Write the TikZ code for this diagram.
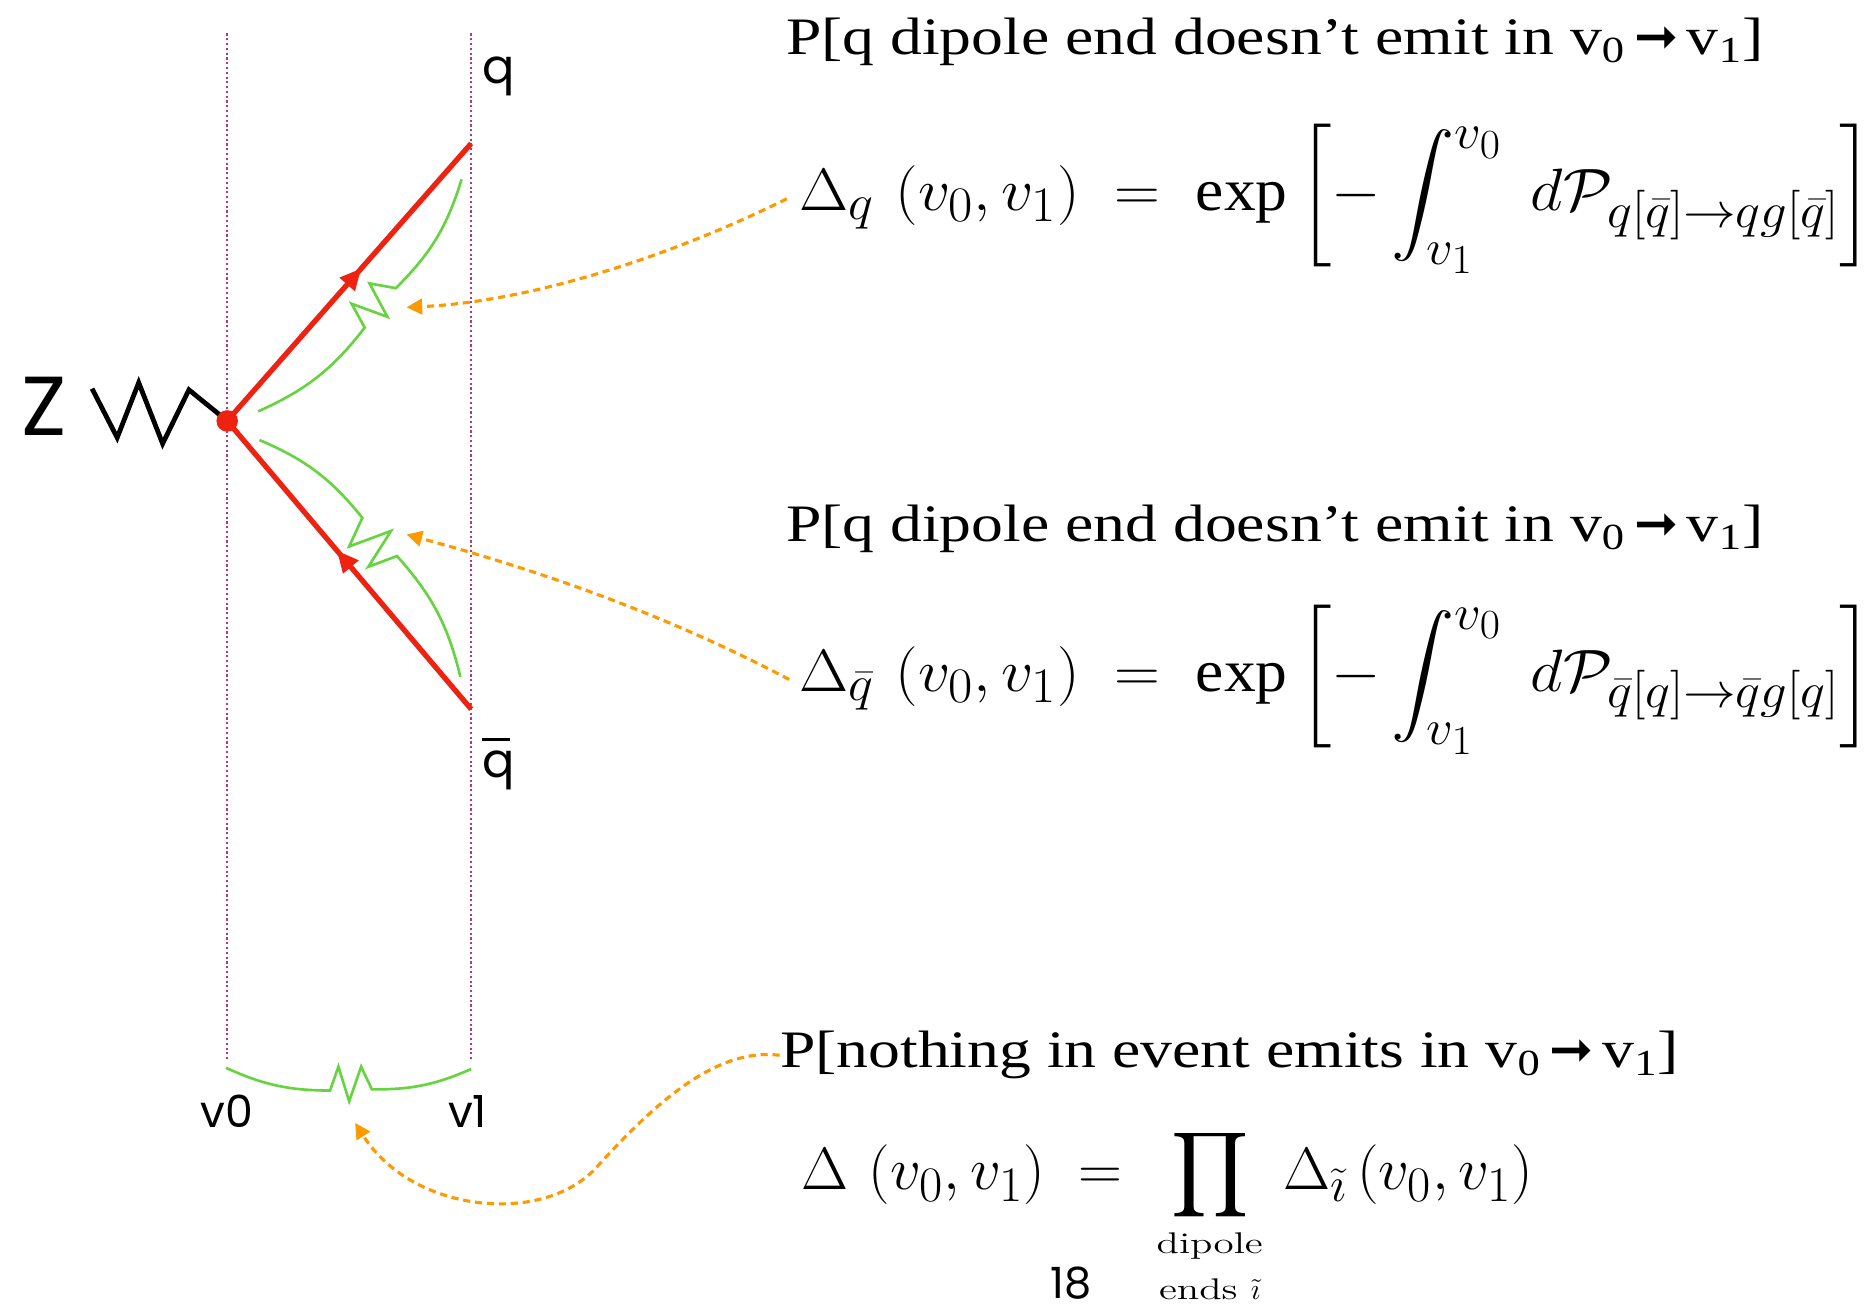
\RequirePackage{fix-cm}
\documentclass[tikz,border=0pt]{standalone}
\usepackage{amsmath}
\usepackage{graphicx}
\usepackage{fontspec}
\setmainfont{Liberation Serif}
\newfontfamily\ttlfont{Liberation Serif}[FakeStretch=1.21]
\newfontfamily\geo{Poppins}
\newfontfamily\djv{DejaVu Sans}
\newfontfamily\lmrw{Latin Modern Roman}[FakeStretch=1.35]
\DeclareMathSizes{25}{25}{20.75}{17.3}
\usetikzlibrary{arrows.meta,decorations.markings}
\definecolor{qred}{HTML}{EE2211}
\definecolor{egreen}{HTML}{66D43F}
\definecolor{orng}{HTML}{FF9900}
\definecolor{guide}{HTML}{B03A7A}
\newcommand{\harr}{{\djv ➞}}
\newcommand{\limtxt}[1]{\mbox{\lmrw\fontsize{12.5}{14}\selectfont #1}}
\begin{document}
\begin{tikzpicture}[x=0.5pt,y=-0.5pt,
  guideline/.style={draw=guide, line width=0.9pt, dash pattern=on 0.9pt off 1.1pt},
  quark/.style={draw=qred, line width=2.2pt},
  emis/.style={draw=egreen, line width=1.1pt, line join=miter},
  boson/.style={draw=black, line width=2pt, line join=miter},
  pointer/.style={draw=orng, line width=1.3pt, dash pattern=on 3pt off 2pt, -{Triangle[length=6.5pt,width=6.5pt]}},
  ttl/.style={font=\ttlfont\fontsize{22}{26}\selectfont, inner sep=0, anchor=base west},
  eqn/.style={font=\fontsize{25}{30}\selectfont, inner sep=0, anchor=base west},
  midarrow/.style={postaction={decorate}, decoration={markings, mark=at position #1 with {\arrow[color=qred]{Triangle[length=9pt,width=8pt]}}}}
]
\useasboundingbox (0,0) rectangle (1568,1096);

% coordinates
\coordinate (v) at (190,352);
\coordinate (qe) at (394,120);
\coordinate (qbe) at (394,593);
\coordinate (g0t) at (190,28);
\coordinate (g0b) at (190,887);
\coordinate (g1t) at (394,28);
\coordinate (g1b) at (394,887);
\coordinate (tip1) at (340,257);
\coordinate (tip2) at (340,447);
\coordinate (tip3) at (297,939);

% guide lines
\draw[guideline] (g0t) -- (g0b);
\draw[guideline] (g1t) -- (g1b);

% Z boson
\node[font=\geo\fontsize{35}{40}\selectfont, inner sep=0, anchor=base] (zlbl) at (37,364) {Z};
\draw[boson] (77,325) -- (98,366) -- (116,320) -- (136,371) -- (158,326) -- (v);

% quarks
\draw[quark, midarrow=0.55] (v) -- (qe);
\draw[quark, midarrow=0.55] (qbe) -- (v);
\fill[qred] (v) circle (4.5pt);

% emissions
\draw[emis] (216,344) to[bend right=14] (305,274) -- (294,254) -- (324,265) -- (309,237) -- (331,241) to[bend right=14] (386,150);
\draw[emis] (217,368) to[bend left=14] (303,433) -- (292,457) -- (327,444) -- (308,474) -- (332,465) to[bend left=14] (385,566);
\draw[emis] (189,893) to[bend right=12] (276,912) -- (283,892) -- (292,921) -- (302,892) -- (311,911) to[bend right=12] (394,894);

% labels
\node[font=\geo\fontsize{20}{24}\selectfont, inner sep=0, anchor=base west] (qlbl) at (403,70) {q};
\node[font=\geo\fontsize{20}{24}\selectfont, inner sep=0, anchor=base west] (qblbl) at (403,650) {\makebox[0pt][l]{\rule[0.75em]{0.58em}{0.07em}}q};
\node[font=\geo\fontsize{18.5}{22}\selectfont, inner sep=0, anchor=base] (v0lbl) at (190,943) {v0};
\node[font=\geo\fontsize{18.5}{22}\selectfont, inner sep=0, anchor=base] (v1lbl) at (391,943) {v1};
\node[font=\geo\fontsize{18}{22}\selectfont, inner sep=0, anchor=base] (page) at (896,1086) {18};

% titles
\node[ttl] (ttl1) at (657,46) {P[q dipole end doesn’t emit in v\textsubscript{0}\,\harr\,v\textsubscript{1}]};
\node[ttl] (ttl2) at (657,453) {P[q dipole end doesn’t emit in v\textsubscript{0}\,\harr\,v\textsubscript{1}]};
\node[ttl] (ttl3) at (652,893) {P[nothing in event emits in v\textsubscript{0}\,\harr\,v\textsubscript{1}]};

% equations
\node[eqn] (eq1) at (668,176) {\resizebox{449pt}{\height}{$\displaystyle \Delta_q\,\left(v_0, v_1\right)\;=\;\exp\,\biggl[-\int_{v_1}^{v_0}\; d\mathcal{P}_{q[\bar q]\to qg[\bar q]}\biggr]$}};
\node[eqn] (eq2) at (668,578) {\resizebox{449pt}{\height}{$\displaystyle \Delta_{\bar q}\,\left(v_0, v_1\right)\;=\;\exp\,\biggl[-\int_{v_1}^{v_0}\; d\mathcal{P}_{\bar q[q]\to \bar q g[q]}\biggr]$}};
\node[eqn] (eq3) at (670,995) {\resizebox{306pt}{\height}{$\displaystyle \Delta\,\left(v_0, v_1\right)\;=\;\prod_{\substack{\limtxt{dipole}\\[3pt] \limtxt{ends $\tilde{\imath}$}}}\, \Delta_{\tilde{\imath}}\left(v_0, v_1\right)$}};

% pointers
\draw[pointer] ([xshift=-5pt]eq1.west) .. controls (570,210) and (450,252) .. (tip1);
\draw[pointer] ([xshift=-4pt]eq2.west) .. controls (553,512) and (447,476) .. (tip2);
\draw[pointer] (ttl3.west) .. controls (600,876) and (550,920) .. (499,976) .. controls (455,1025) and (345,1015) .. (tip3);
\end{tikzpicture}
\end{document}
